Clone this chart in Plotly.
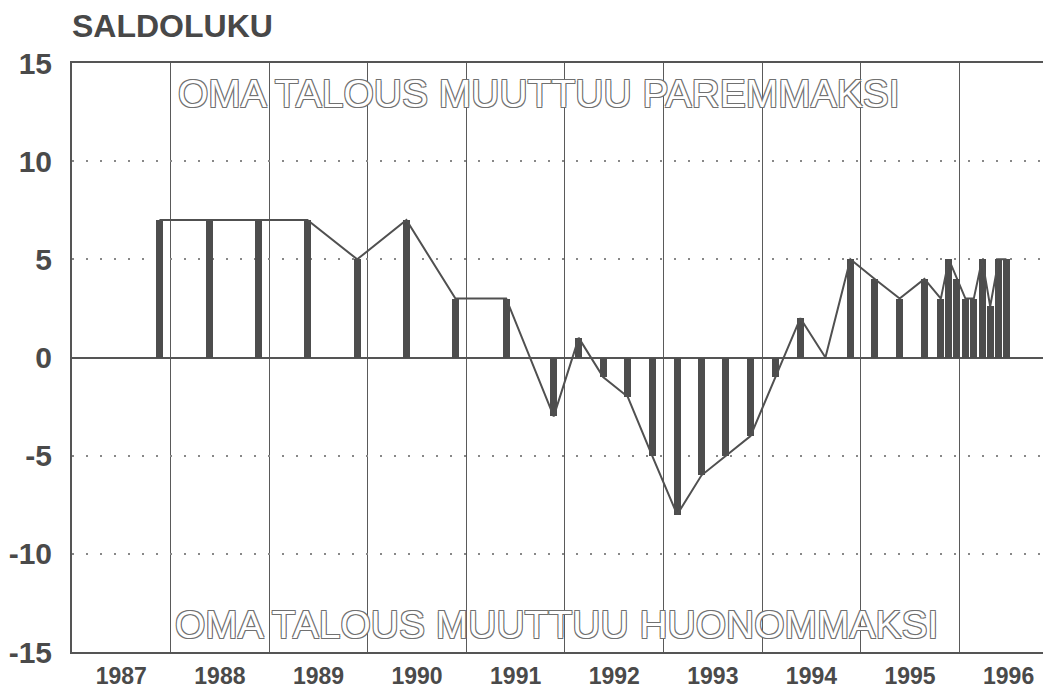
import plotly.graph_objects as go

# Survey timing (decimal years) and balance figure (saldoluku)
x_pos = [1987.887, 1988.391, 1988.888, 1989.388, 1989.893, 1990.392, 1990.889,
         1991.404, 1991.886, 1992.140, 1992.387, 1992.637, 1992.884, 1993.138,
         1993.385, 1993.631, 1993.882, 1994.135, 1994.388, 1994.642, 1994.895,
         1995.142, 1995.395, 1995.646, 1995.813, 1995.894, 1995.975, 1996.062,
         1996.147, 1996.232, 1996.313, 1996.400, 1996.478]
values = [7, 7, 7, 7, 5, 7, 3,
          3, -3, 1, -1, -2, -5, -8,
          -6, -5, -4, -1, 2, 0, 5,
          4, 3, 4, 3, 5, 4, 3,
          3, 5, 2.6, 5, 5]

years = [1987, 1988, 1989, 1990, 1991, 1992, 1993, 1994, 1995, 1996]
year_labels = [str(y) for y in years]
y_ticks = [-15, -10, -5, 0, 5, 10, 15]
y_labels = ["-15", "-10", "-5", "0", "5", "10", "15"]

title_text = "SALDOLUKU"
top_text = "OMA TALOUS MUUTTUU PAREMMAKSI"
bottom_text = "OMA TALOUS MUUTTUU HUONOMMAKSI"

DARK = "#4d4d4d"
oc = "#707070"
outline = (f"-1px -1px 0 {oc}, 1px -1px 0 {oc}, -1px 1px 0 {oc}, "
           f"1px 1px 0 {oc}")

fig = go.Figure()
fig.add_trace(go.Bar(
    x=x_pos, y=values, width=0.071,
    marker=dict(color=DARK, line=dict(width=0)),
    hoverinfo="x+y", showlegend=False,
))
fig.add_trace(go.Scatter(
    x=x_pos, y=values, mode="lines",
    line=dict(color="#505050", width=2),
    hoverinfo="skip", showlegend=False,
))

fig.add_annotation(x=1988.05, y=13.45, xref="x", yref="y", text=top_text,
                   showarrow=False, xanchor="left", yanchor="middle",
                   font=dict(family="Liberation Sans, Arial, sans-serif", size=39,
                             color="white", shadow=outline))
fig.add_annotation(x=1988.02, y=-13.6, xref="x", yref="y", text=bottom_text,
                   showarrow=False, xanchor="left", yanchor="middle",
                   font=dict(family="Liberation Sans, Arial, sans-serif", size=39,
                             color="white", shadow=outline))
fig.add_annotation(x=-0.002, y=1.062, xref="paper", yref="paper", text=title_text,
                   showarrow=False, xanchor="left", yanchor="middle",
                   font=dict(family="Liberation Sans, Arial, sans-serif", size=32,
                             color="#484848", weight="bold"))

fig.update_layout(
    width=1043, height=683,
    margin=dict(l=64, r=0, t=55, b=39),
    paper_bgcolor="white", plot_bgcolor="white",
    bargap=0,
    xaxis=dict(
        range=[1987, 1996.93],
        tickmode="array",
        tickvals=[y + 0.5 for y in years],
        ticktext=year_labels,
        ticks="", showgrid=False, zeroline=False,
        showline=True, mirror=True, linecolor="#555555", linewidth=2,
        tickfont=dict(family="Liberation Sans, Arial, sans-serif",
                      size=23, color="#4a4a4a", weight="bold"),
        ticklabelstandoff=2,
        automargin=False,
        minor=dict(tickmode="array", tickvals=years[1:], showgrid=True,
                   gridcolor="#5a5a5a", gridwidth=1, ticks=""),
        fixedrange=True,
    ),
    yaxis=dict(
        range=[-15, 15],
        tickmode="array", tickvals=y_ticks, ticktext=y_labels,
        ticks="", showgrid=True, gridcolor="#888888", gridwidth=2,
        griddash="2px,12px",
        zeroline=True, zerolinecolor="#555555", zerolinewidth=2,
        showline=True, linecolor="#555555", linewidth=2,
        tickfont=dict(family="Liberation Sans, Arial, sans-serif", size=30,
                      color="#4a4a4a", weight="bold"),
        ticklabelstandoff=12,
        automargin=False,
        fixedrange=True,
    ),
)

fig.write_html("out.html")
